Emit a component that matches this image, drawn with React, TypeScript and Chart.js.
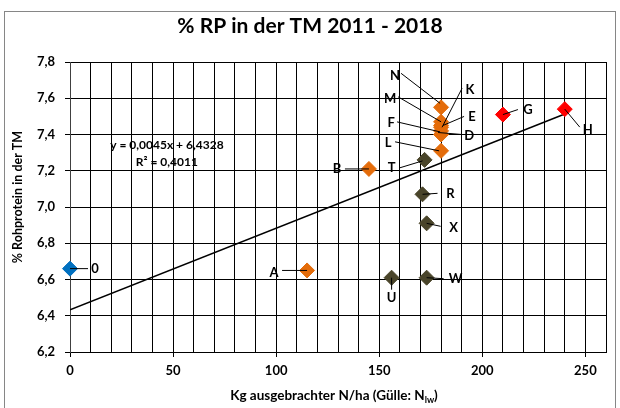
import React, { useEffect, useRef } from 'react';
import { Chart, registerables } from 'chart.js';

Chart.register(...registerables);

// ---------- data ----------
const pointLabels = ['0', 'A', 'B', 'N', 'M', 'E', 'K', 'F', 'D', 'L', 'T', 'R', 'X', 'U', 'W', 'G', 'H'];
const nApplied = [0, 115, 145, 180, 180, 180, 180, 180, 180, 180, 172, 171, 173, 156, 173, 210, 240];
const crudeProtein = [6.66, 6.65, 7.21, 7.55, 7.47, 7.45, 7.44, 7.42, 7.40, 7.31, 7.26, 7.07, 6.91, 6.61, 6.61, 7.51, 7.54];
const pointGroups = ['g0', 'g1', 'g1', 'g1', 'g1', 'g1', 'g1', 'g1', 'g1', 'g1', 'g2', 'g2', 'g2', 'g2', 'g2', 'g3', 'g3'];
const groupKeys = ['g3', 'g1', 'g2', 'g0'];

const TREND_SLOPE = 0.0045;
const TREND_INTERCEPT = 6.4328;
const TREND_R2 = 0.4011;
const trendRange = [0, 240];

const xTickMin = 0;
const xTickMax = 260;
const xGridStep = 10;
const xLabelStep = 50;
const yTickMin = 6.2;
const yTickMax = 7.8;
const yTickStep = 0.2;

const titleText = '% RP in der TM 2011 - 2018';
const yTitleText = '% Rohprotein in der TM';
const xTitleMain = 'Kg ausgebrachter N/ha (Gülle: N';
const xTitleSub = 'lw';
const xTitleEnd = ')';

// ---------- styles ----------
const groupColors: Record<string, string> = {
  g0: '#0070C0',
  g1: '#E46C0A',
  g2: '#4A452A',
  g3: '#FF0000',
};
const FONT = 'Lato, "Liberation Sans", sans-serif';

// label layout: [textDx, textDy, lineX1, lineY1, lineX2, lineY2] relative to point pixel
const labelLayout: Record<string, number[]> = {
  '0': [25, 0, 18, 0, 0, 0],
  A: [-33, 2, -25, 0, 0, 0],
  B: [-32, 0, -24, 0, 0, 0],
  N: [-46, -32, -40, -34, -1, -4],
  M: [-51, -23, -43, -25, 0, 0],
  E: [31, -9, 23, -9, 2, 0],
  K: [29, -37, 21, -39, 1, 0],
  F: [-50, -8, -44, -9, -1, 1],
  D: [28, 1, 21, 0, -3, -2],
  L: [-53, -8, -46, -9, -2, 0],
  T: [-33, 8, -25, 8, -2, 1],
  R: [28, -1, 15, -1, 0, 0],
  X: [27, 4, 14, 3, 0, 0],
  U: [0, 20, 0, 12, 0, 0],
  W: [29, 1, 17, 1, 0, 0],
  G: [25, -5, 15, -5, 0, 0],
  H: [23, 21, 15, 18, 0, 0],
};
const equationAnchor = { x: 47, y: 7.342 };

const fmt = (v: number) => v.toFixed(4).replace('.', ',');

const decorPlugin = {
  id: 'decor',
  beforeDraw(chart: any) {
    const { ctx, width, height } = chart;
    ctx.save();
    ctx.fillStyle = '#ffffff';
    ctx.fillRect(0, 0, width, height);
    ctx.strokeStyle = '#868686';
    ctx.lineWidth = 1;
    ctx.strokeRect(4.5, 11.5, width - 9, height + 10);
    ctx.restore();
  },
  afterDatasetsDraw(chart: any) {
    const { ctx } = chart;
    const xs = chart.scales.x;
    const ys = chart.scales.y;
    ctx.save();
    ctx.font = `bold 13px ${FONT}`;
    ctx.fillStyle = '#000';
    ctx.strokeStyle = '#000';
    ctx.lineWidth = 1;
    ctx.textAlign = 'center';
    ctx.textBaseline = 'middle';
    pointLabels.forEach((lab, i) => {
      const px = xs.getPixelForValue(nApplied[i]);
      const py = ys.getPixelForValue(crudeProtein[i]);
      const l = labelLayout[lab] || [15, 0, 10, 0, 0, 0];
      ctx.beginPath();
      ctx.moveTo(px + l[2], py + l[3]);
      ctx.lineTo(px + l[4], py + l[5]);
      ctx.stroke();
      ctx.fillText(lab, px + l[0], py + l[1]);
    });
    const ex = xs.getPixelForValue(equationAnchor.x);
    const ey = ys.getPixelForValue(equationAnchor.y);
    ctx.font = `bold 12px ${FONT}`;
    ctx.fillText(`y = ${fmt(TREND_SLOPE)}x + ${fmt(TREND_INTERCEPT)}`, ex, ey);
    ctx.fillText(`R² = ${fmt(TREND_R2)}`, ex, ey + 17);
    ctx.restore();
  },
  afterDraw(chart: any) {
    const { ctx, chartArea } = chart;
    ctx.save();
    ctx.fillStyle = '#000';
    ctx.textAlign = 'center';
    ctx.textBaseline = 'middle';
    ctx.font = `bold 21px ${FONT}`;
    ctx.fillText(titleText, 310, 26);
    ctx.font = `bold 12.5px ${FONT}`;
    ctx.save();
    ctx.translate(18, (chartArea.top + chartArea.bottom) / 2 - 10);
    ctx.rotate(-Math.PI / 2);
    ctx.fillText(yTitleText, 0, 0);
    ctx.restore();
    const cx = (chartArea.left + chartArea.right) / 2 - 4;
    const cy = 396;
    ctx.font = `bold 13.5px ${FONT}`;
    const w1 = ctx.measureText(xTitleMain).width;
    const w3 = ctx.measureText(xTitleEnd).width;
    ctx.font = `bold 9px ${FONT}`;
    const w2 = ctx.measureText(xTitleSub).width;
    const x0 = cx - (w1 + w2 + w3) / 2;
    ctx.textAlign = 'left';
    ctx.font = `bold 13.5px ${FONT}`;
    ctx.fillText(xTitleMain, x0, cy);
    ctx.font = `bold 9px ${FONT}`;
    ctx.fillText(xTitleSub, x0 + w1, cy + 4);
    ctx.font = `bold 13.5px ${FONT}`;
    ctx.fillText(xTitleEnd, x0 + w1 + w2, cy);
    ctx.restore();
  },
};

export default function App() {
  const ref = useRef<HTMLCanvasElement>(null);
  useEffect(() => {
    document.body.style.margin = '0';
    const canvas = ref.current;
    if (!canvas) return;

    const scatterSets = groupKeys.map((g) => {
      const data: { x: number; y: number }[] = [];
      pointLabels.forEach((_, i) => {
        if (pointGroups[i] === g) data.push({ x: nApplied[i], y: crudeProtein[i] });
      });
      return {
        type: 'scatter' as const,
        label: g,
        data,
        pointStyle: 'rectRot',
        pointRadius: 7.5,
        pointHoverRadius: 7.5,
        backgroundColor: groupColors[g],
        borderColor: groupColors[g],
        borderWidth: 1,
        clip: false as any,
        order: 1,
      };
    });

    const trendSet = {
      type: 'line' as const,
      label: 'trend',
      data: trendRange.map((x) => ({ x, y: TREND_INTERCEPT + TREND_SLOPE * x })),
      borderColor: '#000',
      borderWidth: 1.5,
      pointRadius: 0,
      fill: false,
      tension: 0,
      order: 5,
    };

    const chart = new Chart(canvas, {
      type: 'scatter',
      data: { datasets: [...scatterSets, trendSet] as any },
      options: {
        responsive: false,
        animation: false,
        events: [],
        layout: { padding: { left: 25, right: 14, top: 62, bottom: 26 } },
        plugins: {
          legend: { display: false },
          title: { display: false },
          tooltip: { enabled: false },
        },
        scales: {
          x: {
            type: 'linear',
            min: xTickMin,
            max: xTickMax,
            afterFit: (s: any) => {
              s.height = 30;
            },
            ticks: {
              stepSize: xGridStep,
              autoSkip: false,
              maxRotation: 0,
              padding: 6,
              color: '#000',
              font: { family: FONT, size: 13, weight: 'bold' },
              callback: (v: any) => (Number(v) % xLabelStep === 0 ? String(v) : ''),
            },
            grid: {
              color: '#000',
              lineWidth: 1,
              tickLength: 5,
              tickColor: (c: any) => (c.tick && c.tick.value % xLabelStep === 0 ? '#000' : 'rgba(0,0,0,0)'),
            },
            border: { color: '#000' },
          },
          y: {
            type: 'linear',
            min: yTickMin,
            max: yTickMax,
            afterFit: (s: any) => {
              s.width = 45;
            },
            ticks: {
              stepSize: yTickStep,
              padding: 10,
              color: '#000',
              font: { family: FONT, size: 13, weight: 'bold' },
              callback: (v: any) => Number(v).toFixed(1).replace('.', ','),
            },
            grid: { color: '#000', lineWidth: 1, tickLength: 5, tickColor: '#000' },
            border: { color: '#404040' },
          },
        },
      } as any,
      plugins: [decorPlugin],
    });
    return () => chart.destroy();
  }, []);

  return (
    <div style={{ width: 620, height: 408 }}>
      <canvas ref={ref} width={620} height={408} style={{ display: 'block' }} />
    </div>
  );
}
